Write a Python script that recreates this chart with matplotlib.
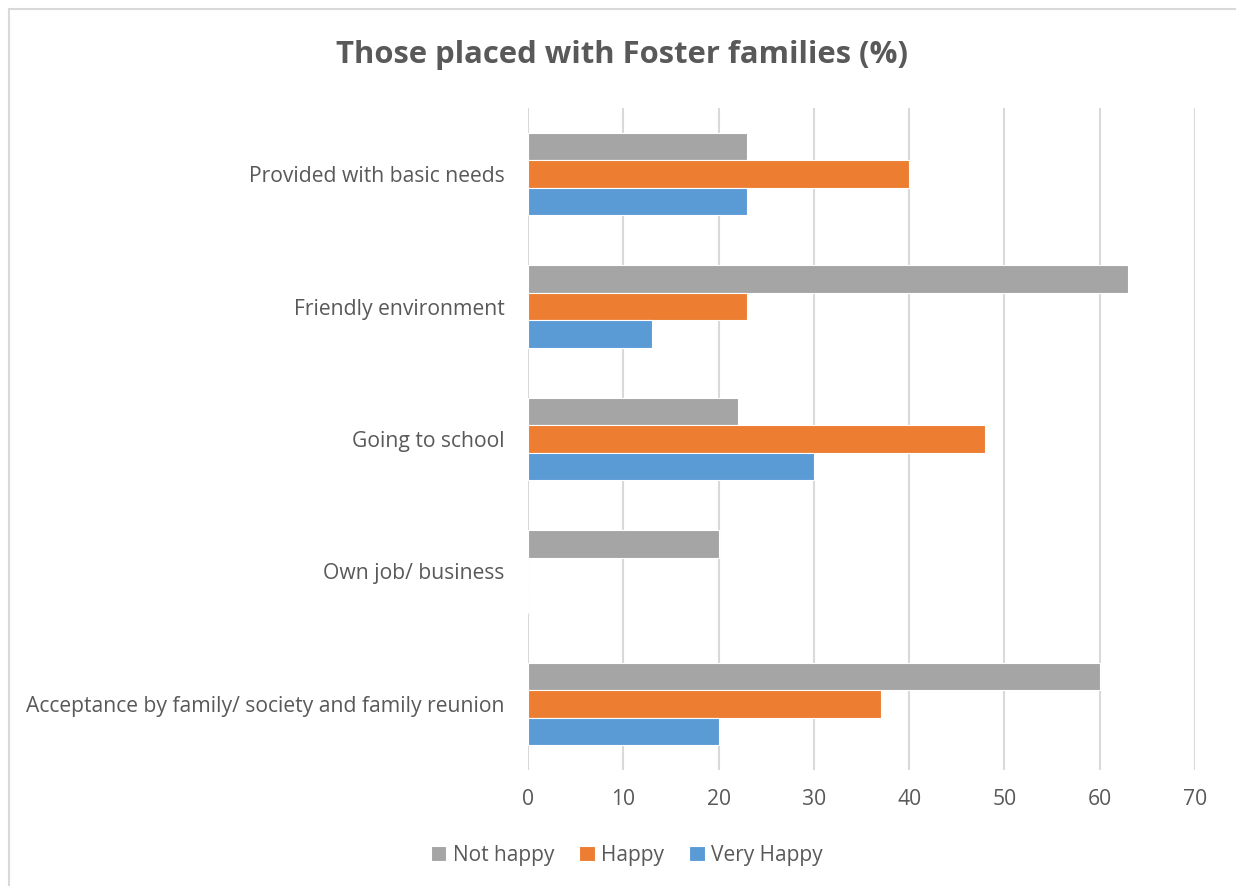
import matplotlib.pyplot as plt
import numpy as np
from matplotlib.patches import Rectangle

plt.rcParams['font.family'] = ['Open Sans', 'DejaVu Sans']

categories = [
    "Provided with basic needs",
    "Friendly environment",
    "Going to school",
    "Own job/ business",
    "Acceptance by family/ society and family reunion",
]
series_names = ["Not happy", "Happy", "Very Happy"]
not_happy = [23, 63, 22, 20, 60]
happy = [40, 23, 48, 0, 37]
very_happy = [23, 13, 30, 0, 20]
x_ticks = [0, 10, 20, 30, 40, 50, 60, 70]

colors = ["#A5A5A5", "#ED7D31", "#5B9BD5"]
text_color = "#595959"

fig = plt.figure(figsize=(12.36, 8.86), dpi=100)
ax = fig.add_axes([528 / 1236, 1 - 770 / 886, (1195 - 528) / 1236, (770 - 108) / 886])

n = len(categories)
y = np.arange(n)  # 0 at top after inversion
bar_h = 0.207
offsets = [-bar_h, 0, bar_h]
for vals, off, col, name in zip([not_happy, happy, very_happy], offsets, colors, series_names):
    ax.barh(y + off, vals, height=bar_h, color=col, edgecolor="white",
            linewidth=0.8, label=name, zorder=3)

ax.set_ylim(n - 0.5, -0.5)
ax.set_xlim(0, 70)
ax.set_xticks(x_ticks)
ax.set_yticks(y)
ax.set_yticklabels(categories)
ax.grid(axis="x", color="#D9D9D9", linewidth=1.5, zorder=0)
ax.set_axisbelow(True)
for s in ax.spines.values():
    s.set_visible(False)
ax.tick_params(axis="both", length=0, colors=text_color, labelsize=15.2)
ax.tick_params(axis="y", pad=17)
ax.tick_params(axis="x", pad=14)

fig.text(0.503, 1 - 55 / 886, "Those placed with Foster families (%)", ha="center", va="center",
         fontsize=22.3, fontweight="bold", color=text_color)

leg = fig.legend(loc="center", bbox_to_anchor=(0.507, 1 - 855 / 886), ncol=3, frameon=False,
                 fontsize=15, handlelength=0.75, handleheight=0.75, handletextpad=0.3,
                 columnspacing=1.2, labelcolor=text_color)

# Chart area border
fig.patches.append(Rectangle((8.5 / 1236, -0.05), 1.2, 1 - 9.5 / 886 + 0.05, transform=fig.transFigure,
                             fill=False, edgecolor="#D9D9D9", linewidth=1.5))

fig.savefig("out.png", dpi=100, facecolor="white")
